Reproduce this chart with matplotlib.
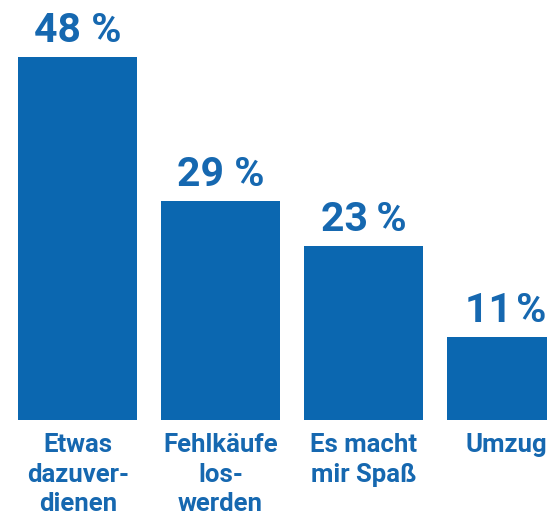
"""
Bar chart: reasons for selling second-hand items
"""

import matplotlib
matplotlib.use('Agg')
import matplotlib.pyplot as plt
import numpy as np

#---------------------------------------------------------------------------------------------------
# Data
#---------------------------------------------------------------------------------------------------

categories = ['Etwas\ndazuver-\ndienen', 'Fehlkäufe\nlos-\nwerden', 'Es macht\nmir Spaß', 'Umzug']
values = [48, 29, 23, 11]
value_labels = ['48 %', '29 %', '23\u2009%', '11\u200a%']

blue = '#0b67b0'
text_blue = '#1668b0'

plt.rcParams['font.family'] = ['Roboto', 'DejaVu Sans']

#---------------------------------------------------------------------------------------------------
# Plot
#---------------------------------------------------------------------------------------------------

fig = plt.figure(figsize=(5.47, 5.15), dpi=100)
ax = fig.add_axes([0, 95 / 515, 1, 420 / 515])

x = np.arange(len(values))
ax.bar(x, values, width=0.833, color=blue)

ax.set_xlim(-0.546, 3.287)
ax.set_ylim(0, 55.54)
ax.axis('off')

# Value labels above bars
for xi, v, lab in zip(x, values, value_labels):
    ax.annotate(lab, (xi, v), xytext=(0, 15), textcoords='offset pixels',
                ha='center', va='baseline', fontsize=29.5, fontweight='bold',
                color=text_blue)

# Category labels below bars
for xi, cat in zip(x, categories):
    ax.annotate(cat, (xi, 0), xytext=(0, -13), textcoords='offset pixels',
                ha='center', va='top', fontsize=18.5, fontweight='bold',
                color=text_blue, linespacing=1.3, annotation_clip=False)

fig.savefig('out.png', dpi=100)
plt.close()
